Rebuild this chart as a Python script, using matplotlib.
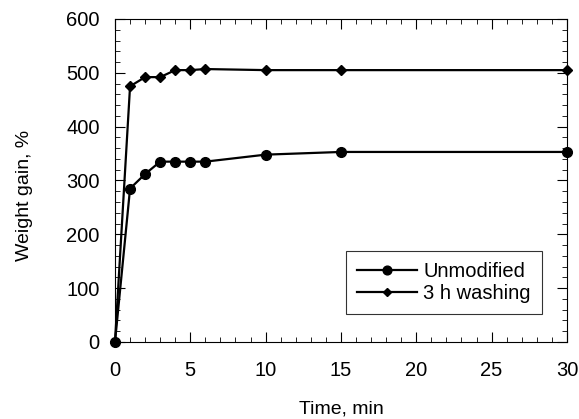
import matplotlib
matplotlib.use("Agg")
import matplotlib.pyplot as plt
from matplotlib.ticker import MultipleLocator

plt.rcParams["font.family"] = ["Liberation Sans", "DejaVu Sans"]

time = [0, 1, 2, 3, 4, 5, 6, 10, 15, 30]
unmodified = [0, 285, 312, 335, 335, 335, 335, 348, 353, 353]
washing_3h = [0, 475, 492, 492, 505, 505, 507, 505, 505, 505]

fig = plt.figure(figsize=(5.79, 4.19), dpi=100)
ax = fig.add_axes([0.1986, 0.1838, 0.7805, 0.7709])

ax.plot(time, unmodified, "-o", color="black", linewidth=1.6, markersize=7,
        label="Unmodified", clip_on=False, zorder=3)
ax.plot(time, washing_3h, "-D", color="black", linewidth=1.6, markersize=5,
        label="3 h washing", clip_on=False, zorder=3)

ax.set_xlim(0, 30)
ax.set_ylim(0, 600)
ax.xaxis.set_major_locator(MultipleLocator(5))
ax.xaxis.set_minor_locator(MultipleLocator(1))
ax.yaxis.set_major_locator(MultipleLocator(100))
ax.yaxis.set_minor_locator(MultipleLocator(20))
ax.tick_params(which="both", direction="in", top=True, right=True, labelsize=14.5)
ax.tick_params(which="major", length=7)
ax.tick_params(which="minor", length=3.5)
ax.tick_params(axis="x", pad=14)
ax.tick_params(axis="y", pad=11)

ax.set_xlabel("Time, min", fontsize=14)
ax.set_ylabel("Weight gain, %", fontsize=14)
ax.xaxis.set_label_coords(0.5, -0.182)
ax.yaxis.set_label_coords(-0.181, 0.455)

leg = ax.legend(loc="lower right", bbox_to_anchor=(0.945, 0.087), fontsize=14.5,
                frameon=True, fancybox=False, edgecolor="black",
                borderaxespad=0, handlelength=3, handletextpad=0.3,
                borderpad=0.55, labelspacing=0.15, markerscale=0.9)
leg.get_frame().set_linewidth(0.8)

fig.savefig("out.png", dpi=100)
